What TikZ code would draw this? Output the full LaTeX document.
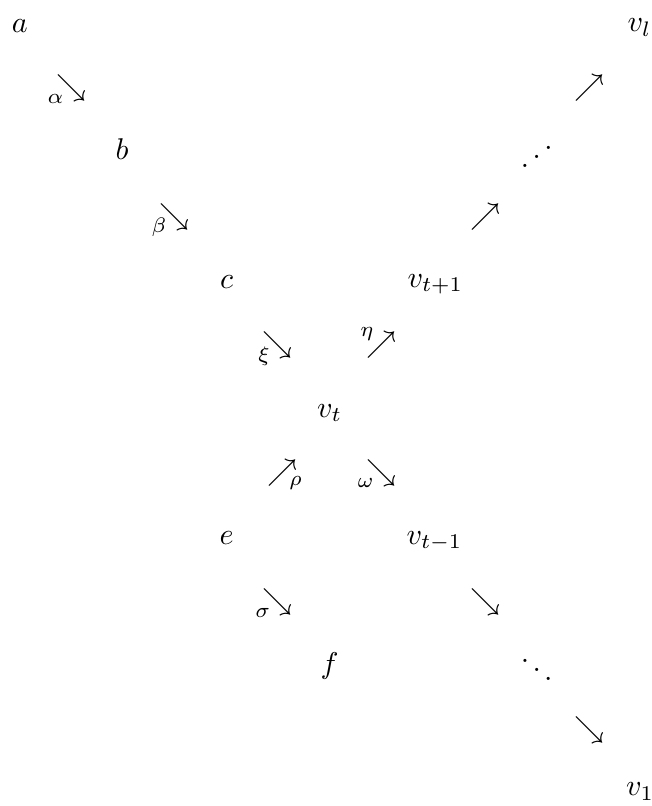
\documentclass[tikz,border=0pt]{standalone}
\begin{document}
\begin{tikzpicture}[x=0.33333pt,y=-0.33333pt,
  obj/.style={inner sep=0pt,outer sep=0pt,anchor=base west},
  arr/.style={inner sep=0pt,outer sep=0pt,anchor=center},
  lab/.style={inner sep=0pt,outer sep=0pt,anchor=center,font=\scriptsize}]
\useasboundingbox (0,0) rectangle (651,806);
% objects
\node[obj] (a) at (12,32) {$a$};
\node[obj] (b) at (115.5,159) {$b$};
\node[obj] (c) at (220,288) {$c$};
\node[obj] (vt1) at (407.5,287) {$v_{t+1}$};
\node[obj] (vt) at (317,417) {$v_t$};
\node[obj] (e) at (219.5,544.5) {$e$};
\node[obj] (vtm) at (406.5,544) {$v_{t-1}$};
\node[inner sep=0pt,anchor=base] (f) at (329.5,673) {$f$};
\node[obj] (vl) at (627.5,31.5) {$v_l$};
\node[obj] (v1) at (626,795.5) {$v_1$};
\node[arr] (dotsu) at (536.7,148.3) {\reflectbox{$\ddots$}};
\node[arr] (dotsd) at (536.7,661) {$\ddots$};
% arrows
\node[arr] (alpha) at (71,88) {$\searrow$};
\node[arr] (beta) at (174.5,217) {$\searrow$};
\node[arr] (xi) at (277.5,345) {$\searrow$};
\node[arr] (eta) at (381.7,345) {$\nearrow$};
\node[arr] (rho) at (282,472.7) {$\nearrow$};
\node[arr] (omega) at (381.7,473) {$\searrow$};
\node[arr] (sigma) at (277.8,602) {$\searrow$};
\node[arr] (up1) at (485,217) {$\nearrow$};
\node[arr] (up2) at (589,87.5) {$\nearrow$};
\node[arr] (dn1) at (485,602) {$\searrow$};
\node[arr] (dn2) at (589,730) {$\searrow$};
% labels
\node[lab] (la) at (55.5,99) {$\alpha$};
\node[lab] (lb) at (159,227) {$\beta$};
\node[lab] (lx) at (264,356) {$\xi$};
\node[lab] (le) at (367,334) {$\eta$};
\node[lab] (lr) at (295.5,483) {$\rho$};
\node[lab] (lw) at (365.5,483) {$\omega$};
\node[lab] (ls) at (262.8,613) {$\sigma$};
\end{tikzpicture}
\end{document}
